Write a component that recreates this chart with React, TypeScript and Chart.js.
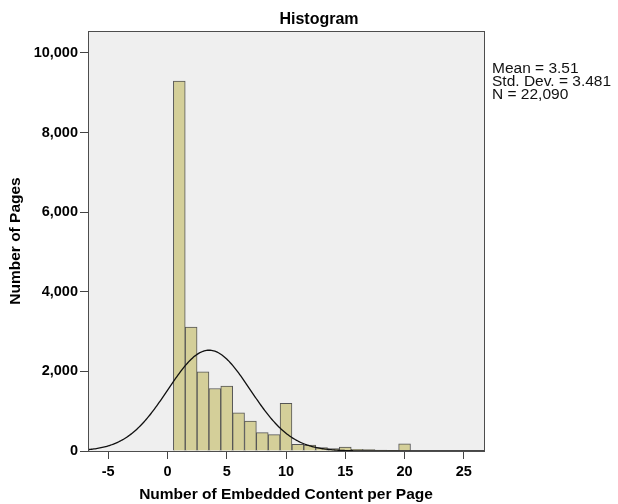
import React, { useEffect, useRef } from "react";
import { Chart, registerables } from "chart.js";

Chart.register(...registerables);

// Histogram bins (one unit wide, centred on each count) and page counts per bin
const binCenters = [0, 1, 2, 3, 4, 5, 6, 7, 8, 9, 10, 11, 12, 13, 14, 15, 16, 17, 18, 19, 20];
const pageCounts = [0, 9290, 3110, 1990, 1570, 1630, 960, 750, 460, 410, 1200, 170, 150, 85, 60, 100, 40, 35, 25, 18, 180];

// Axis ticks
const xTickValues = [-5, 0, 5, 10, 15, 20, 25];
const yTickValues = [0, 2000, 4000, 6000, 8000, 10000];

// Summary statistics shown beside the plot; the normal curve uses the same values
const MEAN = 3.51;
const STD_DEV = 3.481;
const N = 22090;
const BIN_WIDTH = 1;

const X_MIN = -6.7;
const X_MAX = 26.7;
const Y_MAX = 10550;

const statLines = [
  `Mean = ${MEAN}`,
  `Std. Dev. = ${STD_DEV}`,
  `N = ${N.toLocaleString("en-US")}`,
];

const FONT = "'Liberation Sans', Arial, sans-serif";

// Normal curve scaled to the histogram (N * bin width * density)
function normalCurve() {
  const pts: { x: number; y: number }[] = [];
  const peak = (N * BIN_WIDTH) / (STD_DEV * Math.sqrt(2 * Math.PI));
  for (let i = 0; i <= 334; i++) {
    const x = X_MIN + i * 0.1;
    const z = (x - MEAN) / STD_DEV;
    pts.push({ x, y: peak * Math.exp(-0.5 * z * z) });
  }
  return pts;
}

const framePlugin = {
  id: "histFrame",
  beforeDraw(chart: any) {
    const { ctx, chartArea } = chart;
    const { left, top, right, bottom } = chartArea;
    ctx.save();
    ctx.fillStyle = "#EFEFEF";
    ctx.fillRect(left, top, right - left, bottom - top);
    ctx.restore();
  },
  afterDraw(chart: any) {
    const { ctx, chartArea } = chart;
    const { left, top, right, bottom } = chartArea;
    ctx.save();
    ctx.strokeStyle = "#4d4d4d";
    ctx.lineWidth = 1;
    ctx.strokeRect(
      Math.round(left) + 0.5,
      Math.round(top) + 0.5,
      Math.round(right) - Math.round(left),
      Math.round(bottom) - Math.round(top)
    );

    ctx.fillStyle = "#000";
    ctx.font = `bold 16px ${FONT}`;
    ctx.textAlign = "center";
    ctx.textBaseline = "alphabetic";
    ctx.fillText("Histogram", 319, 23.5);

    ctx.font = `15.5px ${FONT}`;
    ctx.textAlign = "left";
    ctx.fillStyle = "#111";
    statLines.forEach((line, i) => {
      ctx.fillText(line, 492, 72.7 + i * 13);
    });
    ctx.restore();
  },
};

export default function App() {
  const canvasRef = useRef<HTMLCanvasElement | null>(null);

  useEffect(() => {
    const canvas = canvasRef.current;
    if (!canvas) return;

    const chart = new Chart(canvas, {
      type: "bar",
      data: {
        datasets: [
          {
            type: "line",
            data: normalCurve(),
            borderColor: "#111",
            borderWidth: 1.3,
            pointRadius: 0,
            tension: 0,
            fill: false,
            order: 0,
          } as any,
          {
            type: "bar",
            data: binCenters.map((x, i) => ({ x, y: pageCounts[i] })),
            backgroundColor: "#D4CF99",
            borderColor: "#555",
            borderWidth: 1,
            barPercentage: 1,
            categoryPercentage: 1,
            order: 1,
          } as any,
        ],
      },
      options: {
        responsive: false,
        animation: false,
        events: [],
        layout: { padding: { left: 0, top: 31, right: 134, bottom: 0 } },
        plugins: {
          legend: { display: false },
          tooltip: { enabled: false },
          title: { display: false },
        },
        scales: {
          x: {
            type: "linear",
            min: X_MIN,
            max: X_MAX,
            offset: false,
            afterBuildTicks: (s: any) => {
              s.ticks = xTickValues.map((v) => ({ value: v }));
            },
            afterFit: (s: any) => {
              s.height = 53;
            },
            grid: {
              offset: false,
              drawOnChartArea: false,
              drawTicks: true,
              tickLength: 8,
              color: "#444",
              lineWidth: 1,
            },
            border: { display: false },
            ticks: {
              padding: 4,
              color: "#000",
              maxRotation: 0,
              autoSkip: false,
              font: { family: FONT, size: 14.5, weight: "bold" },
              callback: (v: any) => String(v),
            },
            title: {
              display: true,
              text: "Number of Embedded Content per Page",
              color: "#000",
              font: { family: FONT, size: 15.5, weight: "bold" },
              padding: { top: 0, bottom: 0 },
            },
          },
          y: {
            type: "linear",
            min: 0,
            max: Y_MAX,
            afterBuildTicks: (s: any) => {
              s.ticks = yTickValues.map((v) => ({ value: v }));
            },
            afterFit: (s: any) => {
              s.width = 88;
            },
            grid: {
              drawOnChartArea: false,
              drawTicks: true,
              tickLength: 8,
              color: "#444",
              lineWidth: 1,
            },
            border: { display: false },
            ticks: {
              padding: 2,
              color: "#000",
              font: { family: FONT, size: 14.5, weight: "bold" },
              callback: (v: any) => Number(v).toLocaleString("en-US"),
            },
            title: {
              display: true,
              text: "Number of Pages",
              color: "#000",
              font: { family: FONT, size: 15.5, weight: "bold" },
              padding: { top: 6, bottom: 0 },
            },
          },
        },
      } as any,
      plugins: [framePlugin],
    });

    return () => chart.destroy();
  }, []);

  return (
    <div style={{ position: "fixed", left: 0, top: 0, width: 618, height: 504, background: "#fff" }}>
      <canvas ref={canvasRef} width={618} height={504} style={{ display: "block" }} />
    </div>
  );
}
